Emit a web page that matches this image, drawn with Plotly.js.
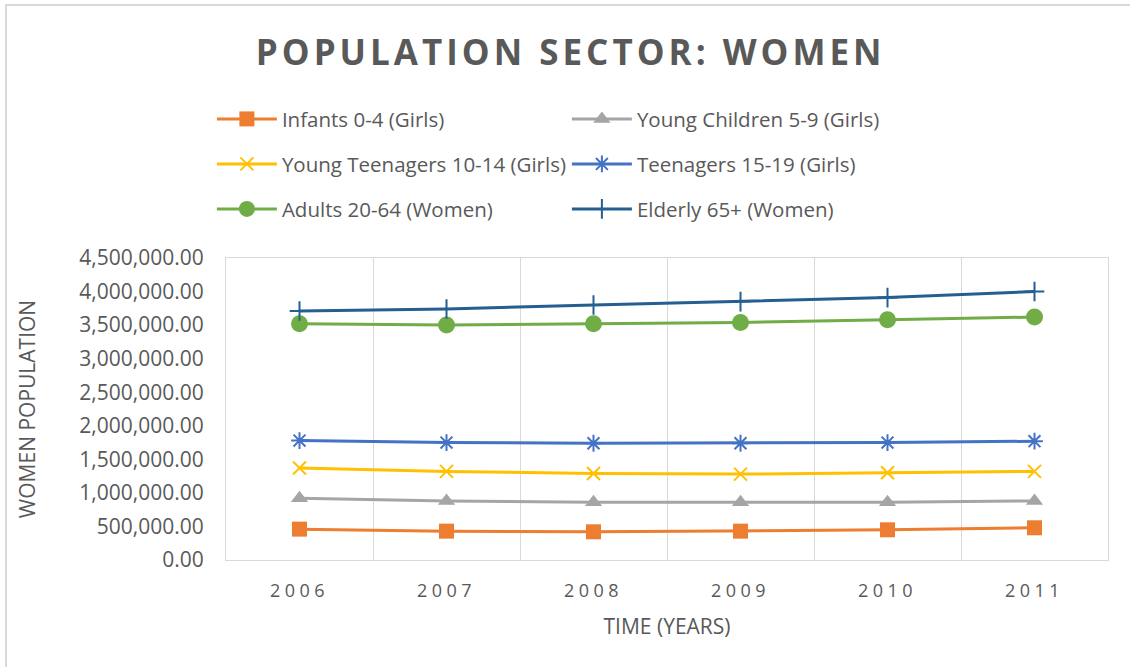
<!DOCTYPE html>
<html>
<head>
<meta charset="utf-8">
<script src="https://cdn.plot.ly/plotly-3.0.1.min.js"></script>
<style>
  html, body { margin: 0; padding: 0; background: #fff; }
  #wrap { position: relative; width: 1130px; height: 667px; }
  #chart { width: 1130px; height: 667px; }
  #frame { position: absolute; left: 5px; top: 4px; right: -10px; bottom: -10px;
           border-left: 2px solid #d9d9d9; border-top: 2px solid #d9d9d9; pointer-events: none; }
</style>
</head>
<body>
<div id="wrap"><div id="chart"></div><div id="frame"></div></div>
<script>
// ---- data ----
const years = ["2006", "2007", "2008", "2009", "2010", "2011"];
const infants = [460000, 430000, 420000, 430000, 450000, 480000];
const youngChildren = [920000, 880000, 860000, 860000, 860000, 880000];
const youngTeenagers = [1370000, 1320000, 1290000, 1280000, 1300000, 1320000];
const teenagers = [1780000, 1750000, 1740000, 1740000, 1750000, 1770000];
const adults = [3520000, 3500000, 3520000, 3540000, 3580000, 3620000];
const elderly = [3710000, 3740000, 3800000, 3850000, 3910000, 4000000];

const seriesNames = [
  "Infants 0-4 (Girls)", "Young Children 5-9 (Girls)",
  "Young Teenagers 10-14 (Girls)", "Teenagers 15-19 (Girls)",
  "Adults 20-64 (Women)", "Elderly 65+ (Women)"
];
const seriesValues = [infants, youngChildren, youngTeenagers, teenagers, adults, elderly];

// ---- styles ----
const styles = [
  {color: "#ED7D31", symbol: "square", size: 15, legend: "legend"},
  {color: "#A5A5A5", symbol: "triangle-up", size: 15, legend: "legend"},
  {color: "#FFC000", symbol: "x-thin-open", size: 13, legend: "legend2"},
  {color: "#4472C4", symbol: "asterisk-open", size: 14, legend: "legend2"},
  {color: "#70AD47", symbol: "circle", size: 17, legend: "legend3"},
  {color: "#255E91", symbol: "cross-thin-open", size: 14, legend: "legend3"}
];

const traces = seriesValues.map((vals, i) => {
  const s = styles[i];
  const thin = s.symbol.indexOf("open") >= 0;
  return {
    type: "scatter", mode: "lines+markers",
    x: years, y: vals, name: seriesNames[i],
    legend: s.legend,
    line: {color: s.color, width: 3},
    marker: {symbol: s.symbol, size: s.size, color: s.color,
             line: {color: s.color, width: thin ? 2 : 0}},
    hoverinfo: "x+y+name"
  };
});

const FONT = "Open Sans, Liberation Sans, sans-serif";
const GREY = "#595959";

function legendCfg(y) {
  return {
    orientation: "h", x: -0.016, xanchor: "left", y: y, yanchor: "middle",
    entrywidth: 280, entrywidthmode: "pixels", itemwidth: 60,
    font: {family: FONT, size: 20.5, color: GREY},
    bgcolor: "rgba(0,0,0,0)"
  };
}

const layout = {
  width: 1130, height: 667,
  margin: {l: 226, r: 22, t: 258, b: 107},
  paper_bgcolor: "#ffffff", plot_bgcolor: "#ffffff",
  font: {family: FONT, color: GREY},
  title: {text: "POPULATION SECTOR: WOMEN", x: 0.505, xanchor: "center", y: 0.921, yanchor: "middle",
          font: {family: FONT, size: 35, color: GREY, weight: "bold"}},
  xaxis: {
    type: "category", range: [-0.5, 5.5],
    tickson: "boundaries", showgrid: true, gridcolor: "#d9d9d9", gridwidth: 1,
    ticks: "", showline: true, mirror: true, linecolor: "#d9d9d9", linewidth: 1,
    tickfont: {family: FONT, size: 18, color: GREY}, ticklabelstandoff: 14,
    title: {text: "TIME (YEARS)", font: {family: FONT, size: 21, color: GREY}, standoff: 18},
    zeroline: false, fixedrange: true
  },
  yaxis: {
    range: [0, 4500000], dtick: 500000, tick0: 0, tickformat: ",.2f",
    showgrid: false, zeroline: false, ticks: "",
    showline: true, mirror: true, linecolor: "#d9d9d9", linewidth: 1,
    tickfont: {family: FONT, size: 21, color: GREY}, ticklabelstandoff: 17,
    title: {text: "WOMEN POPULATION", font: {family: FONT, size: 21, color: GREY}, standoff: 37},
    fixedrange: true
  },
  legend: legendCfg(1.46),
  legend2: legendCfg(1.311),
  legend3: legendCfg(1.162),
  showlegend: true
};

Plotly.newPlot("chart", traces, layout, {displayModeBar: false, staticPlot: true}).then(gd => {
  const t = gd.querySelector(".gtitle");
  if (t) t.style.letterSpacing = "4px";
  gd.querySelectorAll(".xtick text").forEach(el => { el.style.letterSpacing = "4.5px"; });
});
</script>
</body>
</html>
